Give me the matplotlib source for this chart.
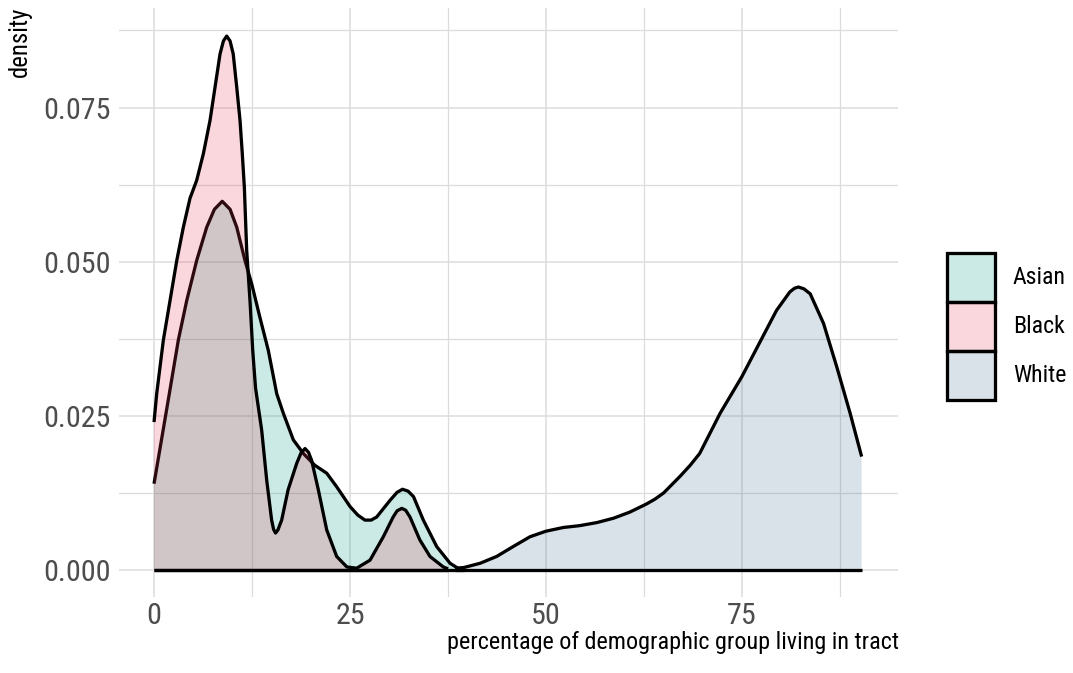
import matplotlib
matplotlib.use("Agg")
import matplotlib.pyplot as plt
import matplotlib.font_manager as fm
from matplotlib.patches import Rectangle
from matplotlib.colors import to_rgba

# prefer a narrow sans face (the reference uses a condensed Arial-like face)
names = {f.name for f in fm.fontManager.ttflist}
family = None
for pref in ["Liberation Sans Narrow", "Arial Narrow", "Roboto Condensed",
             "DejaVu Sans Condensed", "Open Sans Condensed", "Noto Sans Condensed"]:
    if pref in names:
        family = pref
        break
stretch = "normal"
if family is None:
    for f in fm.fontManager.ttflist:
        if f.stretch in ("condensed", "semi-condensed") and f.style == "normal" \
                and f.weight in (400, "normal", "regular") and "Mono" not in f.name \
                and "Serif" not in f.name:
            family = f.name
            stretch = f.stretch
            break
if family is None:
    family = "Liberation Sans"
plt.rcParams["font.family"] = [family, "Liberation Sans", "DejaVu Sans"]
plt.rcParams["font.stretch"] = stretch

# ---- data ----
categories = ["Asian", "Black", "White"]
colors = ["#00967D", "#E13750", "#416E91"]

asian_x = [0, 1.95, 3.1, 4.17, 5.44, 6.72, 7.7, 8.7, 9.7, 10.55, 11.6, 12.46, 13.5, 14.58,
           15.65, 16.5, 17.77, 19.05, 20.5, 22.03, 23.3, 25.0, 26.0, 26.9, 27.7, 28.4, 30.1,
           31.0, 31.7, 32.4, 33.1, 34.35, 36.06, 37.76, 39.0, 39.6]
asian_y = [0.0140, 0.0286, 0.0373, 0.0437, 0.0502, 0.0556, 0.0585, 0.0598, 0.0585, 0.0556,
           0.0502, 0.0464, 0.0410, 0.0356, 0.0286, 0.0254, 0.0211, 0.0189, 0.0170, 0.0157,
           0.0135, 0.0103, 0.0089, 0.0081, 0.0081, 0.0086, 0.0113, 0.0126, 0.0131, 0.0128,
           0.0119, 0.0081, 0.0038, 0.0011, 0.0001, 0.0]

black_x = [0, 0.34, 1.19, 2.04, 2.9, 3.74, 4.59, 5.44, 6.29, 7.14, 7.78, 8.42, 8.85, 9.27,
           9.7, 10.1, 10.55, 10.97, 11.26, 11.52, 11.82, 12.24, 12.59, 12.95, 13.73, 14.37,
           15.0, 15.25, 15.5, 15.8, 16.28, 17.1, 18.2, 18.75, 19.26, 19.7, 20.1, 20.96, 22.03,
           23.3, 24.6, 25.85, 27.55, 29.25, 30.5, 31.0, 31.6, 32.1, 32.65, 33.9, 35.2, 36.9,
           37.5]
black_y = [0.0240, 0.0286, 0.0373, 0.0437, 0.0502, 0.0556, 0.0603, 0.0632, 0.0675, 0.0729,
           0.0783, 0.0837, 0.0858, 0.0866, 0.0858, 0.0837, 0.0783, 0.0729, 0.0675, 0.0621,
           0.0518, 0.0437, 0.0356, 0.0295, 0.0227, 0.0146, 0.0081, 0.0066, 0.0060, 0.0065,
           0.0081, 0.0130, 0.0173, 0.0190, 0.0197, 0.0191, 0.0178, 0.0130, 0.0065, 0.0022,
           0.0005, 0.0003, 0.0016, 0.0054, 0.0086, 0.0096, 0.0100, 0.0097, 0.0086, 0.0049,
           0.0022, 0.0005, 0.0002]

white_x = [38.4, 39.5, 41.6, 43.7, 45.8, 47.96, 50.0, 52.2, 54.3, 56.5, 58.6, 60.7, 62.8,
           63.9, 65.0, 67.1, 68.4, 69.6, 72.2, 75.0, 77.3, 79.4, 81.1, 81.7, 82.2, 82.9, 83.7,
           85.4, 87.1, 88.8, 90.26]
white_y = [0.0003, 0.0004, 0.0011, 0.0022, 0.0038, 0.0054, 0.0063, 0.0069, 0.0072, 0.0077,
           0.0084, 0.0094, 0.0107, 0.0115, 0.0125, 0.0152, 0.0170, 0.0189, 0.0254, 0.0314,
           0.0370, 0.0421, 0.0451, 0.0457, 0.0459, 0.0456, 0.0448, 0.0400, 0.0329, 0.0254,
           0.0184]

xs = [asian_x, black_x, white_x]
ys = [asian_y, black_y, white_y]

x_ticks = [0, 25, 50, 75]
x_tick_labels = ["0", "25", "50", "75"]
y_ticks = [0.0, 0.025, 0.05, 0.075]
y_tick_labels = ["0.000", "0.025", "0.050", "0.075"]
x_title = "percentage of demographic group living in tract"
y_title = "density"

# ---- figure ----
W, H = 1073, 673
fig = plt.figure(figsize=(W / 100, H / 100), dpi=100)
renderer = fig.canvas.get_renderer()


def fit_size(text, target_px, fs0=20.0):
    t = fig.text(0, 0, text, fontsize=fs0)
    w = t.get_window_extent(renderer=renderer).width
    t.remove()
    return fs0 * target_px / w


tick_fs = fit_size("0.050", 67.5)
title_fs = fit_size(x_title, 450)
ytitle_fs = fit_size(y_title, 70)
legend_fs = fit_size("Asian", 53)

ax = fig.add_axes([118.6 / W, 1 - 596.8 / H, (898 - 118.6) / W, (596.8 - 8.3) / H])

grid_col = "#DCDCDC"
ax.set_xlim(-4.52, 94.9)
ax.set_ylim(-0.00434, 0.0911)
ax.set_xticks(x_ticks)
ax.set_xticklabels(x_tick_labels)
ax.set_yticks(y_ticks)
ax.set_yticklabels(y_tick_labels)
ax.set_xticks([12.5, 37.5, 62.5, 87.5], minor=True)
ax.set_yticks([0.0125, 0.0375, 0.0625, 0.0875], minor=True)
ax.grid(True, which="major", color=grid_col, linewidth=1.1, zorder=0)
ax.grid(True, which="minor", color=grid_col, linewidth=0.9, zorder=0)
ax.set_axisbelow(True)
for s in ax.spines.values():
    s.set_visible(False)
ax.tick_params(which="both", length=0)
ax.tick_params(axis="x", pad=4, labelsize=tick_fs, labelcolor="#4D4D4D")
ax.tick_params(axis="y", pad=6, labelsize=tick_fs, labelcolor="#4D4D4D")

lw = 2.35
z = 2
for cat, col, x, y in zip(categories, colors, xs, ys):
    ax.fill_between(x, 0, y, facecolor=to_rgba(col, 0.2), linewidth=0, zorder=z)
    ax.plot(x, y, color="black", linewidth=lw, solid_joinstyle="round",
            solid_capstyle="butt", zorder=z + 0.1)
    ax.plot([x[0], x[-1]], [0, 0], color="black", linewidth=lw,
            solid_capstyle="butt", zorder=z + 0.1)
    z += 1

# axis titles
fig.text(20 / W, 1 - 7 / H, y_title, rotation=90, ha="center", va="top",
         fontsize=ytitle_fs, color="black")
fig.text(899 / W, 1 - 631 / H, x_title, ha="right", va="top",
         fontsize=title_fs, color="black")

# legend
key_w, key_h = 48, 49
key_x0, key_y0 = 947, 252.7
for i, (cat, col) in enumerate(zip(categories, colors)):
    top = key_y0 + i * key_h
    rect = Rectangle((key_x0 / W, 1 - (top + key_h) / H), key_w / W, key_h / H,
                     transform=fig.transFigure, facecolor=to_rgba(col, 0.2),
                     edgecolor="black", linewidth=lw, zorder=5)
    fig.add_artist(rect)
    fig.text(1013 / W, 1 - (top + key_h / 2) / H, cat, ha="left", va="center",
             fontsize=legend_fs, color="black")

fig.savefig("out.png", dpi=100)
